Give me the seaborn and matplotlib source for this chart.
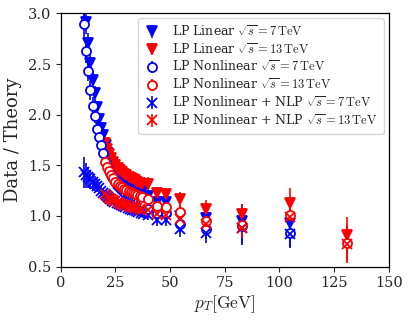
import matplotlib
matplotlib.use("Agg")
import matplotlib.pyplot as plt
import seaborn as sns

# transverse momentum bins (GeV)
pt_7 = [10.5, 11.5, 12.5, 13.5, 14.5, 15.5, 16.5, 17.5, 18.5, 19.5,
        20.5, 21.5, 22.5, 23.5, 24.5, 25.5, 26.5, 27.5, 28.5, 29.5,
        30.5, 31.5, 32.5, 33.5, 34.5, 35.5, 36.5, 37.5,
        40, 44, 48, 54.5, 66.5, 83, 105]
pt_13 = [20, 21, 22, 23, 24, 25, 26, 27, 28, 29,
         30, 31, 32, 33, 34, 35, 36, 37,
         40, 44, 48, 54.5, 66.5, 83, 105, 131]

# data / theory ratios, sqrt(s) = 7 TeV
lin_7 = [3.10, 2.92, 2.71, 2.51, 2.34, 2.21, 2.08, 1.96, 1.87, 1.80,
         1.70, 1.62, 1.56, 1.52, 1.48, 1.45, 1.42, 1.40, 1.38, 1.36,
         1.34, 1.33, 1.31, 1.30, 1.29, 1.28, 1.27, 1.26,
         1.20, 1.14, 1.14, 1.00, 0.98, 0.95, 0.93]
nonlin_7 = [2.90, 2.63, 2.43, 2.24, 2.09, 1.99, 1.86, 1.78, 1.70, 1.62,
            1.53, 1.47, 1.42, 1.38, 1.35, 1.31, 1.29, 1.27, 1.25, 1.23,
            1.21, 1.20, 1.18, 1.17, 1.16, 1.15, 1.14, 1.13,
            1.07, 1.03, 1.03, 0.92, 0.87, 0.90, 0.83]
nlp_7 = [1.43, 1.40, 1.38, 1.36, 1.34, 1.32, 1.30, 1.28, 1.25, 1.23,
         1.21, 1.19, 1.17, 1.15, 1.14, 1.13, 1.12, 1.11, 1.10, 1.09,
         1.08, 1.07, 1.06, 1.06, 1.05, 1.04, 1.03, 1.02,
         1.01, 0.96, 0.96, 0.87, 0.83, 0.88, 0.82]
err_7 = [0.15, 0.12, 0.10, 0.09, 0.08, 0.07, 0.06, 0.06, 0.05, 0.05,
         0.05, 0.05, 0.04, 0.04, 0.04, 0.04, 0.04, 0.04, 0.04, 0.04,
         0.04, 0.04, 0.04, 0.04, 0.04, 0.04, 0.04, 0.04,
         0.05, 0.06, 0.06, 0.08, 0.10, 0.17, 0.14]

# data / theory ratios, sqrt(s) = 13 TeV
lin_13 = [1.72, 1.66, 1.61, 1.57, 1.53, 1.50, 1.47, 1.45, 1.43, 1.41,
          1.40, 1.38, 1.37, 1.36, 1.35, 1.34, 1.33, 1.32,
          1.32, 1.23, 1.22, 1.17, 1.07, 1.02, 1.13, 0.81]
nonlin_13 = [1.53, 1.48, 1.44, 1.40, 1.37, 1.34, 1.32, 1.30, 1.29, 1.27,
             1.26, 1.25, 1.24, 1.23, 1.22, 1.21, 1.20, 1.19,
             1.17, 1.10, 1.09, 1.04, 0.95, 0.91, 1.01, 0.73]
nlp_13 = [1.22, 1.20, 1.18, 1.17, 1.16, 1.15, 1.14, 1.13, 1.12, 1.11,
          1.11, 1.10, 1.09, 1.09, 1.08, 1.08, 1.07, 1.06,
          1.06, 1.02, 1.01, 0.97, 0.92, 0.88, 0.99, 0.72]
err_13 = [0.04, 0.04, 0.04, 0.04, 0.03, 0.03, 0.03, 0.03, 0.03, 0.03,
          0.03, 0.03, 0.03, 0.03, 0.03, 0.03, 0.03, 0.03,
          0.06, 0.06, 0.06, 0.07, 0.09, 0.10, 0.15, 0.18]

lab7 = r"$\sqrt{s}=7\,\mathrm{TeV}$"
lab13 = r"$\sqrt{s}=13\,\mathrm{TeV}$"

sns.set_theme(style="ticks")
plt.rcParams['font.family'] = ['DejaVu Serif']
plt.rcParams['mathtext.fontset'] = 'cm'

fig = plt.figure(figsize=(4.11, 3.2), dpi=100)
ax = fig.add_axes([0.148, 0.167, 0.798, 0.791])

series = [
    (pt_7, lin_7, err_7, 'blue', 'v', True, "LP Linear " + lab7),
    (pt_13, lin_13, err_13, 'red', 'v', True, "LP Linear " + lab13),
    (pt_7, nonlin_7, err_7, 'blue', 'o', False, "LP Nonlinear " + lab7),
    (pt_13, nonlin_13, err_13, 'red', 'o', False, "LP Nonlinear " + lab13),
    (pt_7, nlp_7, err_7, 'blue', 'x', True, "LP Nonlinear + NLP " + lab7),
    (pt_13, nlp_13, err_13, 'red', 'x', True, "LP Nonlinear + NLP " + lab13),
]
for x, y, e, c, m, filled, lab in series:
    ax.errorbar(x, y, yerr=e, fmt=m, color=c, ecolor=c, elinewidth=1.2,
                markersize=6.5, markeredgewidth=1.3,
                markerfacecolor=c if filled else 'white',
                label=lab)

ax.set_xlim(0, 150)
ax.set_ylim(0.5, 3.0)
ax.set_xticks([0, 25, 50, 75, 100, 125, 150])
ax.set_yticks([0.5, 1.0, 1.5, 2.0, 2.5, 3.0])
ax.tick_params(labelsize=10.5, length=3.5, width=0.8)
for s in ax.spines.values():
    s.set_color('black')
    s.set_linewidth(0.9)
ax.set_xlabel(r"$p_T[\mathrm{GeV}]$", fontsize=12.5, labelpad=2)
ax.set_ylabel("Data / Theory", fontsize=13, labelpad=4)
ax.legend(loc='upper right', fontsize=9, handlelength=1.2, handletextpad=1.0,
          labelspacing=0.3, borderpad=0.5, borderaxespad=0.4)

fig.savefig("out.png", dpi=100)
